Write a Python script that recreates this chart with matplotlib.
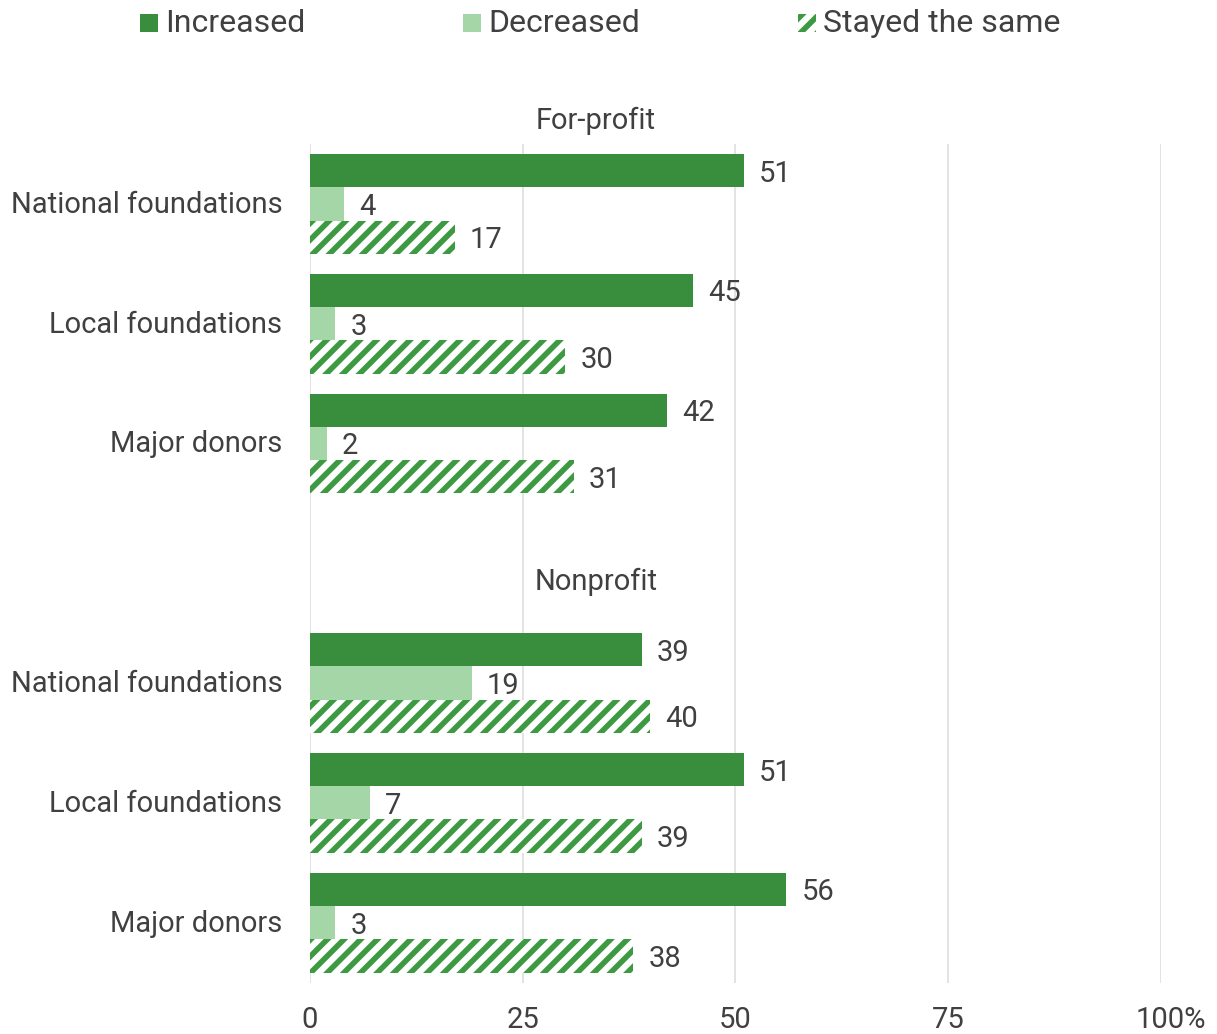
import matplotlib
matplotlib.use("Agg")
import matplotlib.pyplot as plt
import matplotlib.transforms as mtransforms
from matplotlib.patches import Rectangle
import numpy as np

plt.rcParams['font.family'] = ['Roboto', 'DejaVu Sans']
plt.rcParams['hatch.linewidth'] = 4.0

categories = ["National foundations", "Local foundations", "Major donors"]
groups = ["For-profit", "Nonprofit"]
increased = [[51, 45, 42], [39, 51, 56]]
decreased = [[4, 3, 2], [19, 7, 3]]
stayed = [[17, 30, 31], [40, 39, 38]]
xticks = [0, 25, 50, 75, 100]
xticklabels = ["0", "25", "50", "75", "100%"]

dark = "#388E3C"
light = "#A5D6A7"
hatch_col = "#3E9A42"
txt = "#404040"
fs = 21

fig = plt.figure(figsize=(12.17, 10.34), dpi=100)
ax = fig.add_axes([0.2547, 0.0498, 0.699, 0.8109])

# slots 0-2 for-profit, slot 3 left empty, 4-6 nonprofit
h = 0.278
ypos, ylabels = [], []
for g in range(2):
    for i, cat in enumerate(categories):
        y = i + 4 * g
        ypos.append(y)
        ylabels.append(cat)
        v1, v2, v3 = increased[g][i], decreased[g][i], stayed[g][i]
        ax.barh(y - h, v1, height=h, color=dark, zorder=3)
        ax.barh(y, v2, height=h, color=light, zorder=3)
        ax.barh(y + h, v3, height=h, color="white", edgecolor=hatch_col,
                hatch="//", linewidth=0, zorder=3)
        for off, v in zip((-h, 0, h), (v1, v2, v3)):
            ax.annotate(str(v), (v, y + off), xytext=(10.8, 0), textcoords="offset points",
                        ha="left", va="center_baseline", fontsize=fs, color=txt)

for g, name in enumerate(groups):
    ax.text(33.6, [-0.69, 3.155][g], name, ha="center", va="center",
            fontsize=fs, color=txt, clip_on=False)

ax.set_xlim(0, 100)
ax.set_ylim(6.5, -0.5)
ax.set_xticks(xticks)
ax.set_xticklabels(xticklabels)
ax.set_yticks(ypos)
ax.set_yticklabels(ylabels)
ax.tick_params(axis="both", length=0, labelsize=fs, labelcolor=txt)
ax.tick_params(axis="y", pad=20)
ax.tick_params(axis="x", pad=17)
ax.grid(axis="x", color="#e0e0e0", linewidth=1.3, zorder=0)
for s in ax.spines.values():
    s.set_visible(False)

# keep the number of "100%" centred on its gridline
pct = ax.get_xticklabels()[-1]
pct.set_transform(pct.get_transform() + mtransforms.ScaledTranslation(0.105, 0, fig.dpi_scale_trans))
# nudge category labels up a touch
for lab in ax.get_yticklabels():
    lab.set_transform(lab.get_transform() + mtransforms.ScaledTranslation(0, 0.02, fig.dpi_scale_trans))

# legend along the top
W, H = 1217.0, 1034.0
legend = [("Increased", 140, dict(facecolor=dark)),
          ("Decreased", 463, dict(facecolor=light)),
          ("Stayed the same", 798, dict(facecolor="white", edgecolor=hatch_col, hatch="//", linewidth=0))]
for label, px, kw in legend:
    fig.add_artist(Rectangle((px / W, 1 - 32 / H), 18 / W, 18 / H,
                             transform=fig.transFigure, **kw))
    fig.text((px + 25) / W, 1 - 24 / H, label, ha="left", va="center",
             fontsize=23, color=txt)

fig.savefig("out.png", dpi=100)
